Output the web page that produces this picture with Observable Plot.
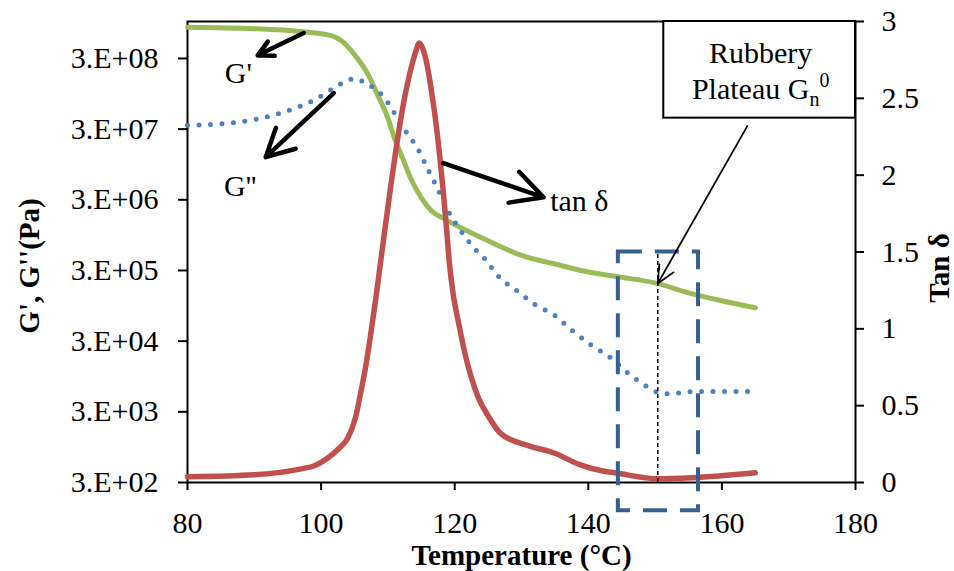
<!DOCTYPE html>
<html>
<head>
<meta charset="utf-8">
<script src="https://cdn.jsdelivr.net/npm/d3@7"></script>
<script src="https://cdn.jsdelivr.net/npm/@observablehq/plot@0.6"></script>
<style>
  html, body { margin: 0; padding: 0; background: #fff; }
</style>
</head>
<body>
<div id="chart"></div>
<script>
// ---- Data ----
// Storage modulus G' (Pa)
const gPrimeTemp = [80, 90, 97, 100, 102, 103, 105, 107, 108.5, 110, 111, 112, 113.5, 115, 116.5, 118.5, 121, 125, 130, 135, 140, 145, 150, 155, 160, 165];
const gPrime     = [8.3e8, 7.9e8, 7.2e8, 6.7e8, 6.1e8, 5.4e8, 3.4e8, 1.8e8, 9.0e7, 4.3e7, 2.2e7, 1.3e7, 5.8e6, 3.2e6, 2.1e6, 1.6e6, 1.2e6, 7.9e5, 4.9e5, 3.7e5, 2.85e5, 2.4e5, 2.0e5, 1.45e5, 1.12e5, 8.9e4];

// Loss modulus G'' (Pa)
const gDoubleTemp = [80, 87, 94, 99, 102, 103.5, 105, 106.5, 108, 109.5, 111, 112.2, 113.5, 114.6, 116, 117.3, 119, 120.9, 123, 124.5, 126.5, 129.5, 132, 135, 137.5, 140.5, 143.5, 146, 149, 150.5, 152, 156, 165];
const gDouble     = [3.4e7, 3.7e7, 5.1e7, 7.8e7, 1.16e8, 1.4e8, 1.56e8, 1.38e8, 1.12e8, 8.3e7, 5.0e7, 3.2e7, 2.2e7, 1.5e7, 8.0e6, 4.6e6, 2.1e6, 1.1e6, 6.1e5, 4.4e5, 2.5e5, 1.5e5, 9.9e4, 6.9e4, 4.3e4, 2.6e4, 1.7e4, 1.05e4, 6.6e3, 5.6e3, 5.4e3, 5.8e3, 5.8e3];

// tan delta
const tanTemp  = [80, 90, 97, 99, 101, 102.5, 104, 105.15, 105.9, 106.65, 107.4, 108.15, 108.9, 109.65, 110.4, 111.15, 111.9, 112.6, 113.4, 114.15, 114.7, 115.3, 115.9, 116.5, 117.1, 117.7, 118.3, 118.8, 119.2, 119.8, 120.6, 121.5, 122.4, 123.6, 124.9, 126.9, 131, 135, 138.5, 142, 144, 150.5, 155.5, 165];
const tanDelta = [0.037, 0.05, 0.089, 0.109, 0.16, 0.215, 0.29, 0.422, 0.578, 0.748, 0.956, 1.185, 1.432, 1.68, 1.921, 2.149, 2.358, 2.527, 2.684, 2.801, 2.86, 2.815, 2.71, 2.553, 2.371, 2.149, 1.888, 1.64, 1.432, 1.217, 1.035, 0.846, 0.696, 0.546, 0.441, 0.318, 0.24, 0.19, 0.12, 0.076, 0.063, 0.024, 0.031, 0.063];

// Axes
const xTicks = [80, 100, 120, 140, 160, 180];
const leftTickValues = [3e2, 3e3, 3e4, 3e5, 3e6, 3e7, 3e8];
const leftTickLabels = ["3.E+02", "3.E+03", "3.E+04", "3.E+05", "3.E+06", "3.E+07", "3.E+08"];
const leftDomain = [300, 1e9];
const rightTicks = [0, 0.5, 1, 1.5, 2, 2.5, 3];
const rightDomain = [0, 3];

const xTitle = "Temperature (°C)";
const leftTitle = "G', G''(Pa)";
const rightTitle = "Tan δ";

// Annotations (data coordinates: temperature, tan δ units)
const labelArrows = [
  {x1: 97.4, y1: 2.925, x2: 90.5, y2: 2.78},
  {x1: 101.9, y1: 2.534, x2: 91.7, y2: 2.117},
  {x1: 118.3, y1: 2.078, x2: 133.3, y2: 1.856}
];
const modulusLabels = [
  {x: 87.6, y: 2.66, text: "G'"},
  {x: 87.9, y: 1.93, text: "G''"}
];
const tanLabel = [{x: 134.3, y: 1.83, text: "tan δ"}];
const plateauArrow = [{x1: 163.8, y1: 2.319, x2: 150.4, y2: 1.295}];
const plateauBox = [{x1: 151.3, x2: 180, y1: 2.371, y2: 3}];
const plateauText = [
  {x: 165.8, y: 2.795, text: "Rubbery"},
  {x: 165.8, y: 2.56, text: "Plateau G"}
];
const plateauRule = [{x: 150.4, y1: 0, y2: 1.5}];
const plateauRegion = [{x1: 144.5, x2: 156.5, y1: -0.184, y2: 1.5}];

// ---- Mapping modulus (log) onto the tan δ axis ----
const L0 = Math.log10(leftDomain[0]), L1 = Math.log10(leftDomain[1]);
const toY = v => rightDomain[0] + (rightDomain[1] - rightDomain[0]) * (Math.log10(v) - L0) / (L1 - L0);

const gPrimeData = gPrimeTemp.map((t, i) => ({t, y: toY(gPrime[i])}));
const gDoubleData = gDoubleTemp.map((t, i) => ({t, y: toY(gDouble[i])}));
const tanData = tanTemp.map((t, i) => ({t, y: tanDelta[i]}));
const leftTickPos = leftTickValues.map(toY);
const leftLabelMap = new Map(leftTickPos.map((p, i) => [p, leftTickLabels[i]]));

const FONT = "'Liberation Serif', 'Times New Roman', Times, serif";
const FS = 30;

const chart = Plot.plot({
  width: 954,
  height: 571,
  marginLeft: 187,
  marginRight: 99,
  marginTop: 21,
  marginBottom: 89,
  style: {fontFamily: FONT, fontSize: FS + "px", background: "white", color: "black", overflow: "visible"},
  x: {domain: [80, 180]},
  y: {domain: rightDomain},
  marks: [
    Plot.frame({stroke: "black", strokeWidth: 2}),
    // plateau box
    Plot.rect(plateauBox, {x1: "x1", x2: "x2", y1: "y1", y2: "y2", fill: "white", stroke: "black", strokeWidth: 2}),
    Plot.text(plateauText, {x: "x", y: "y", text: "text", fontSize: FS, fill: "black", textAnchor: "middle", lineAnchor: "middle"}),
    // curves
    Plot.line(gPrimeData, {x: "t", y: "y", stroke: "#9BBB59", strokeWidth: 5, curve: "monotone-x", strokeLinecap: "round"}),
    Plot.line(gDoubleData, {x: "t", y: "y", stroke: "#4F81BD", strokeWidth: 5, curve: "monotone-x", strokeDasharray: "0 11.5", strokeLinecap: "round"}),
    Plot.line(tanData, {x: "t", y: "y", stroke: "#C0504D", strokeWidth: 5.5, curve: "monotone-x", strokeLinecap: "round"}),
    // plateau region & marker
    Plot.rect(plateauRegion, {x1: "x1", x2: "x2", y1: "y1", y2: "y2", fill: "none", stroke: "#376092", strokeWidth: 4, strokeDasharray: "24 13"}),
    Plot.ruleX(plateauRule, {x: "x", y1: "y1", y2: "y2", stroke: "black", strokeWidth: 1.5, strokeDasharray: "4 3"}),
    Plot.arrow(plateauArrow, {x1: "x1", y1: "y1", x2: "x2", y2: "y2", stroke: "black", strokeWidth: 1.8, headLength: 16, headAngle: 50}),
    // curve label arrows
    Plot.arrow(labelArrows, {x1: "x1", y1: "y1", x2: "x2", y2: "y2", stroke: "black", strokeWidth: 4.5, headLength: 20, headAngle: 55}),
    Plot.text(modulusLabels, {x: "x", y: "y", text: "text", textAnchor: "middle", lineAnchor: "middle", fontSize: FS, fill: "black"}),
    Plot.text(tanLabel, {x: "x", y: "y", text: "text", textAnchor: "start", lineAnchor: "middle", fontSize: FS, fill: "black"}),
    // axes
    Plot.axisX(xTicks, {anchor: "bottom", tickSize: 8, tickPadding: 21, fontSize: FS, strokeWidth: 2, fill: "black", label: null}),
    Plot.axisY(leftTickPos, {anchor: "left", tickSize: 9, tickPadding: 20, fontSize: FS, strokeWidth: 2, fill: "black", tickFormat: d => leftLabelMap.get(d), label: null}),
    Plot.axisY(rightTicks, {anchor: "right", tickSize: 8, tickPadding: 18, fontSize: FS, strokeWidth: 2, fill: "black", tickFormat: d => String(d), label: null}),
    // axis titles
    Plot.text([xTitle], {frameAnchor: "bottom", dy: 73, textAnchor: "middle", lineAnchor: "middle", fontSize: 29, fontWeight: "bold", fill: "black"}),
    Plot.text([leftTitle], {frameAnchor: "left", dx: -158, dy: 14, rotate: -90, textAnchor: "middle", lineAnchor: "middle", fontSize: 29, fontWeight: "bold", fill: "black"}),
    Plot.text([rightTitle], {frameAnchor: "right", dx: 84, dy: 16, rotate: -90, textAnchor: "middle", lineAnchor: "middle", fontSize: 29, fontWeight: "bold", fill: "black"})
  ]
});

document.getElementById("chart").appendChild(chart);

// subscript n and superscript 0 in "Plateau Gn0"
d3.select(chart).selectAll("text").filter(function() { return this.textContent === "Plateau G"; })
  .each(function() {
    const t = d3.select(this);
    t.append("tspan").attr("font-size", 20).attr("dy", "0.35em").text("n");
    t.append("tspan").attr("font-size", 20).attr("dy", "-0.95em").text("0");
  });
</script>
</body>
</html>
